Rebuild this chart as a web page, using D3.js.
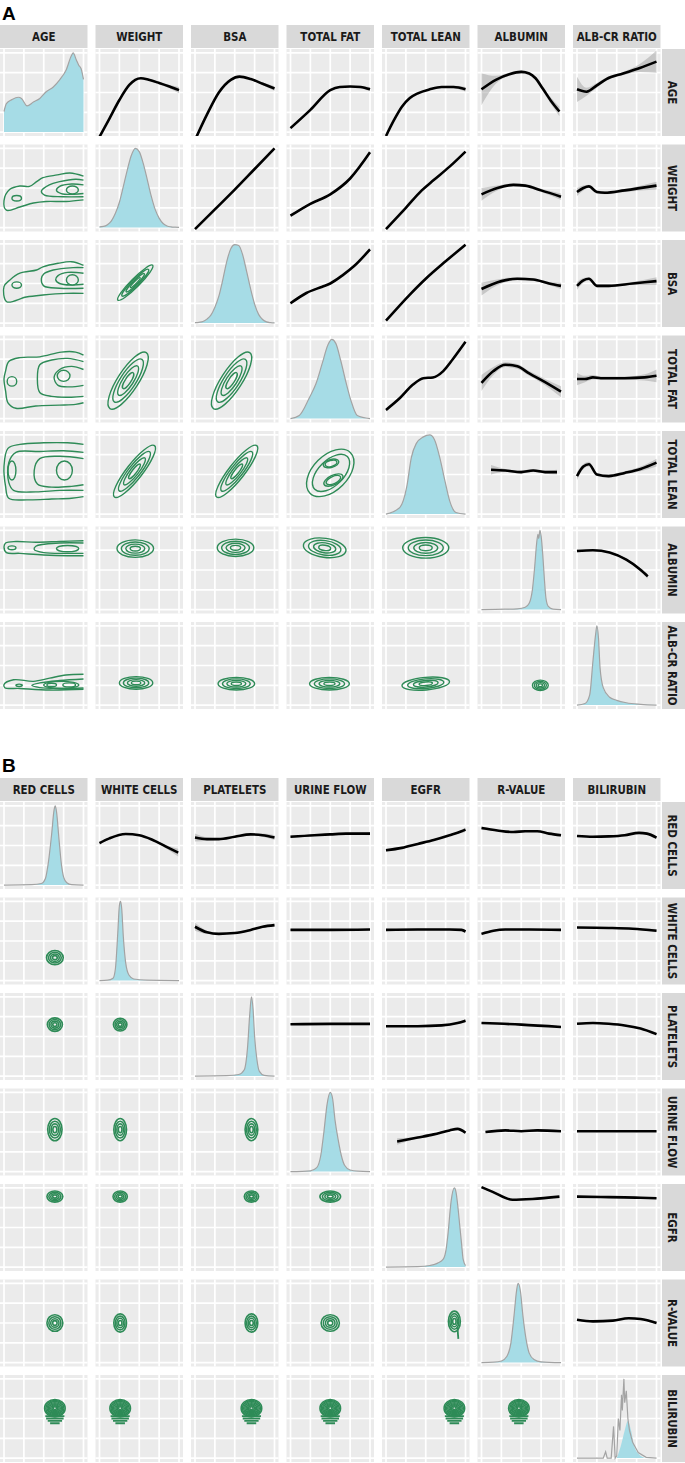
<!DOCTYPE html>
<html><head><meta charset="utf-8">
<script src="https://cdn.jsdelivr.net/npm/d3@7"></script>
<style>body{margin:0;background:#fff;} svg{display:block}</style>
</head><body>
<svg id="chart" width="685" height="1463"></svg>
<script>
// ---------------- DATA ----------------
const varsA = ["AGE","WEIGHT","BSA","TOTAL FAT","TOTAL LEAN","ALBUMIN","ALB-CR RATIO"];
const varsB = ["RED CELLS","WHITE CELLS","PLATELETS","URINE FLOW","EGFR","R-VALUE","BILIRUBIN"];
const gridBreaks = [0, .25, .5, .75, 1];

// diagonal densities: [x, relative density]
const densAge = [[0,.26],[.03,.36],[.1,.41],[.18,.44],[.22,.425],[.29,.33],[.37,.38],[.45,.425],[.53,.51],[.62,.57],[.7,.66],[.78,.78],[.85,.97],[.87,1],[.91,.91],[.94,.845],[.97,.8],[1,.665]];
const densWeight = [[0,.01],[.05,.015],[.1,.037],[.15,.086],[.2,.18],[.25,.32],[.3,.52],[.35,.73],[.4,.91],[.45,1],[.5,.96],[.55,.81],[.6,.61],[.65,.4],[.7,.23],[.75,.12],[.8,.052],[.85,.021],[.9,.01],[.95,.006],[1,.004]];
const densBsa = [[0,.005],[.05,.01],[.1,.02],[.15,.05],[.2,.1],[.25,.2],[.3,.34],[.35,.55],[.4,.78],[.45,.94],[.5,.99],[.55,.98],[.6,.86],[.65,.65],[.7,.43],[.75,.24],[.8,.11],[.85,.045],[.9,.015],[.95,.006],[1,.003]];
const densFat = [[0,0],[.11,.04],[.24,.27],[.32,.44],[.4,.7],[.47,.93],[.52,1],[.57,.95],[.63,.74],[.7,.45],[.76,.23],[.84,.04],[1,0]];
const densLean = [[0,0],[.175,.085],[.26,.34],[.32,.72],[.38,.89],[.47,.975],[.55,1],[.61,.94],[.675,.72],[.74,.425],[.8,.17],[.88,.02],[1,0]];
const densAlbumin = [[0,0],[.3,.005],[.45,.01],[.55,.03],[.6,.08],[.64,.25],[.67,.55],[.69,.8],[.71,.95],[.72,.9],[.735,1],[.75,.93],[.77,.7],[.79,.4],[.81,.15],[.84,.04],[.9,.005],[1,0]];
const densAlbcr = [[0,0],[.1,.02],[.16,.13],[.2,.55],[.235,.9],[.25,1],[.27,.85],[.29,.47],[.33,.22],[.41,.1],[.5,.06],[.62,.03],[.8,.01],[1,0]];

const densRed = [[0,0],[.35,.005],[.47,.02],[.52,.08],[.56,.3],[.6,.65],[.63,.95],[.645,1],[.66,.93],[.69,.6],[.72,.28],[.75,.1],[.79,.03],[.85,.005],[1,0]];
const densWhite = [[0,0],[.1,.005],[.17,.03],[.2,.15],[.23,.6],[.25,.95],[.265,1],[.28,.9],[.3,.55],[.33,.22],[.37,.07],[.43,.02],[.6,.005],[1,0]];
const densPlatelets = [[0,0],[.4,.005],[.55,.02],[.62,.08],[.66,.35],[.69,.8],[.71,1],[.73,.85],[.75,.5],[.78,.2],[.81,.06],[.87,.01],[1,0]];
const densUrine = [[0,0],[.25,.01],[.33,.05],[.38,.2],[.42,.5],[.46,.85],[.5,1],[.53,.92],[.56,.65],[.6,.4],[.64,.2],[.68,.08],[.75,.02],[.85,.005],[1,0]];
const densEgfr = [[0,0],[.4,.005],[.55,.02],[.65,.05],[.72,.1],[.76,.25],[.78,.42],[.82,.84],[.86,1],[.88,.95],[.9,.8],[.93,.5],[.95,.3],[.97,.1],[1,.02]];
const densRvalue = [[0,0],[.15,.005],[.25,.02],[.32,.08],[.37,.25],[.41,.6],[.44,.9],[.46,1],[.49,.9],[.52,.6],[.56,.3],[.6,.12],[.66,.04],[.75,.01],[1,0]];
const densBili = [[0,0],[.33,0],[.36,.08],[.38,0],[.43,0],[.46,.4],[.48,0],[.5,.03],[.52,.5],[.54,.35],[.56,.8],[.57,.6],[.59,1],[.6,.7],[.62,.85],[.64,.5],[.66,.35],[.7,.2],[.77,.07],[.87,.01],[1,0]];
const biliFill = [[.5,0],[.55,.15],[.6,.35],[.64,.47],[.68,.35],[.72,.15],[.78,.05],[.87,0]];

const densityA = [densAge, densWeight, densBsa, densFat, densLean, densAlbumin, densAlbcr];
const densityB = [densRed, densWhite, densPlatelets, densUrine, densEgfr, densRvalue, densBili];

// upper cells: [row, col, [[x, fit, se], ...]]
const linesA = [
 [0,1,[[0,-.06,.01],[.125,.17,.01],[.25,.405,.01],[.375,.595,.01],[.45,.66,.01],[.52,.68,.01],[.62,.66,.01],[.75,.62,.015],[.88,.575,.02],[1,.53,.04]]],
 [0,2,[[0,-.1,.01],[.15,.22,.01],[.3,.5,.01],[.45,.66,.01],[.56,.7,.01],[.7,.67,.01],[.85,.61,.015],[1,.55,.03]]],
 [0,3,[[0,.05,.02],[.25,.28,.01],[.5,.53,.01],[.62,.57,.01],[.75,.575,.01],[.88,.57,.015],[1,.54,.025]]],
 [0,4,[[0,-.05,.02],[.1,.15,.01],[.2,.32,.01],[.3,.43,.01],[.4,.49,.01],[.55,.54,.01],[.7,.57,.01],[.85,.57,.015],[1,.54,.03]]],
 [0,5,[[0,.54,.2],[.18,.66,.05],[.35,.73,.02],[.5,.76,.02],[.6,.74,.02],[.68,.68,.02],[.77,.55,.03],[.87,.4,.04],[.98,.26,.06]]],
 [0,6,[[0,.54,.16],[.12,.51,.05],[.25,.59,.03],[.37,.67,.02],[.58,.74,.02],[.79,.81,.05],[1,.89,.14]]],
 [1,2,[[0,-.02,.01],[.25,.23,.005],[.5,.48,.005],[.75,.74,.005],[1,1,.01]]],
 [1,3,[[0,.15,.02],[.25,.3,.01],[.5,.42,.01],[.75,.62,.01],[1,.95,.02]]],
 [1,4,[[0,-.02,.01],[.25,.25,.01],[.45,.47,.01],[.6,.6,.01],[.8,.77,.01],[1,.96,.01]]],
 [1,5,[[0,.42,.08],[.2,.5,.03],[.4,.54,.02],[.55,.53,.02],[.75,.47,.02],[1,.39,.04]]],
 [1,6,[[0,.45,.05],[.08,.5,.03],[.15,.52,.02],[.25,.45,.02],[.35,.44,.02],[.6,.47,.02],[1,.53,.05]]],
 [2,3,[[0,.25,.02],[.2,.38,.01],[.4,.46,.01],[.5,.5,.01],[.65,.6,.01],[.8,.72,.01],[1,.93,.02]]],
 [2,4,[[0,.03,.01],[.3,.36,.01],[.5,.56,.01],[.75,.78,.01],[1,.99,.01]]],
 [2,5,[[0,.43,.08],[.25,.53,.03],[.45,.56,.02],[.65,.55,.02],[.85,.5,.02],[1,.47,.04]]],
 [2,6,[[0,.47,.05],[.08,.54,.03],[.15,.56,.02],[.25,.47,.02],[.4,.47,.02],[.7,.5,.02],[1,.53,.05]]],
 [3,4,[[0,.11,.02],[.175,.26,.01],[.34,.43,.01],[.47,.51,.01],[.59,.52,.01],[.72,.6,.01],[.84,.75,.01],[1,.97,.02]]],
 [3,5,[[0,.45,.1],[.15,.6,.05],[.3,.68,.03],[.45,.66,.03],[.6,.57,.03],[.8,.46,.04],[1,.34,.07]]],
 [3,6,[[0,.5,.08],[.1,.5,.04],[.2,.52,.03],[.3,.51,.02],[.6,.51,.02],[.85,.52,.04],[1,.54,.08]]],
 [4,5,[[.12,.56,.06],[.3,.55,.02],[.5,.53,.02],[.65,.55,.02],[.8,.53,.02],[.95,.53,.03]]],
 [4,6,[[0,.48,.05],[.08,.6,.03],[.15,.63,.03],[.25,.5,.02],[.4,.48,.02],[.6,.52,.02],[.8,.57,.03],[1,.65,.05]]],
 [5,6,[[0,.74,.02],[.2,.75,.01],[.41,.72,.01],[.62,.63,.015],[.79,.51,.02],[.89,.42,.03]]]
];
const linesB = [
 [0,1,[[0,.53,.02],[.125,.59,.01],[.33,.645,.01],[.5,.63,.01],[.67,.57,.01],[.83,.49,.02],[.99,.41,.05]]],
 [0,2,[[0,.6,.05],[.15,.58,.02],[.3,.58,.01],[.5,.61,.01],[.7,.64,.01],[.85,.63,.02],[1,.6,.03]]],
 [0,3,[[0,.61,.02],[.3,.63,.01],[.5,.64,.01],[.7,.65,.01],[1,.65,.02]]],
 [0,4,[[0,.44,.02],[.2,.47,.01],[.4,.52,.01],[.6,.57,.01],[.8,.63,.01],[.95,.68,.02],[1,.7,.03]]],
 [0,5,[[0,.72,.02],[.2,.69,.01],[.4,.67,.01],[.55,.68,.01],[.7,.68,.01],[.85,.65,.01],[1,.63,.02]]],
 [0,6,[[0,.62,.01],[.2,.61,.01],[.4,.615,.01],[.6,.63,.01],[.78,.66,.01],[.88,.65,.01],[1,.6,.02]]],
 [1,2,[[0,.68,.05],[.15,.61,.02],[.3,.59,.01],[.5,.6,.01],[.7,.64,.01],[.85,.68,.01],[1,.7,.02]]],
 [1,3,[[0,.64,.01],[.5,.64,.01],[1,.645,.01]]],
 [1,4,[[0,.64,.01],[.4,.645,.01],[.8,.645,.01],[.95,.64,.01],[1,.62,.02]]],
 [1,5,[[0,.59,.02],[.15,.63,.01],[.3,.645,.01],[.6,.645,.01],[1,.64,.01]]],
 [1,6,[[0,.67,.01],[.4,.665,.01],[.7,.655,.01],[1,.63,.02]]],
 [2,3,[[0,.655,.01],[.5,.66,.01],[1,.66,.01]]],
 [2,4,[[0,.63,.01],[.4,.63,.01],[.7,.64,.01],[.9,.67,.01],[1,.7,.02]]],
 [2,5,[[0,.67,.01],[.5,.65,.01],[1,.62,.01]]],
 [2,6,[[0,.66,.01],[.2,.67,.01],[.4,.66,.01],[.6,.64,.01],[.8,.6,.01],[1,.53,.02]]],
 [3,4,[[.14,.38,.04],[.4,.43,.01],[.6,.47,.01],[.8,.52,.01],[.9,.54,.01],[1,.49,.02]]],
 [3,5,[[.05,.5,.01],[.3,.52,.01],[.5,.51,.01],[.7,.52,.01],[1,.51,.01]]],
 [3,6,[[0,.51,.01],[.5,.51,.01],[1,.51,.01]]],
 [4,5,[[0,1.01,.01],[.14,.95,.01],[.39,.85,.01],[.64,.86,.01],[.98,.89,.01]]],
 [4,6,[[0,.89,.01],[.3,.885,.01],[.6,.88,.01],[.8,.875,.01],[1,.87,.01]]],
 [5,6,[[0,.54,.01],[.2,.52,.01],[.45,.53,.01],[.65,.56,.01],[.8,.55,.01],[1,.5,.02]]]
];

// lower cells: density contours
const ringScales = [1, .76, .52, .28];
const biliScales = [1, .88, .76, .64, .52, .4, .28, .16];
// [row, col, cx, cy, rx, ry, angleDeg, rings]
const ellipsesA = [
 [1,0,.86,.475,.075,.05,0,1],[1,0,.16,.37,.06,.035,0,1],
 [2,0,.86,.545,.075,.065,0,1],[2,0,.16,.48,.06,.04,0,1],
 [3,0,.75,.54,.08,.07,0,1],[3,0,.1,.47,.06,.06,0,1],
 [4,0,.76,.55,.1,.12,0,1],[4,0,.1,.55,.05,.12,0,1],
 [5,0,.8,.77,.14,.04,0,1],[5,0,.1,.78,.05,.025,0,1],
 [6,0,.72,.255,.22,.045,0,1],[6,0,.82,.255,.08,.025,0,1],[6,0,.6,.255,.06,.02,0,1],[6,0,.19,.25,.04,.015,0,1],
 [2,1,.45,.51,.31,.055,-45,4],
 [3,1,.36,.48,.42,.13,-57,4],[3,2,.46,.48,.42,.13,-57,4],
 [4,1,.44,.54,.41,.1,-52,4],[4,2,.525,.54,.41,.1,-52,4],
 [4,3,.5,.52,.36,.22,-45,1],[4,3,.51,.52,.29,.16,-45,1],[4,3,.51,.64,.1,.05,-15,2],[4,3,.54,.43,.13,.06,-25,2],
 [5,1,.45,.77,.23,.11,0,4],[5,2,.51,.78,.23,.11,0,4],[5,3,.43,.78,.27,.12,8,4],[5,4,.5,.78,.29,.13,0,4],
 [6,1,.46,.28,.21,.08,0,4],[6,2,.52,.27,.23,.08,0,4],[6,3,.49,.27,.25,.08,0,4],[6,4,.5,.27,.3,.08,-5,4],[6,5,.74,.25,.1,.065,0,4]
];
// open contour paths in the AGE column: [row, points]
const ageContours = [
 [1,[[1,.65],[.83,.69],[.67,.665],[.49,.63],[.41,.58],[.32,.52],[.2,.525],[.07,.48],[0,.34],[.03,.22],[.2,.26],[.37,.31],[.53,.33],[.78,.33],[1,.35]]],
 [1,[[1,.6],[.9,.61],[.7,.58],[.57,.54],[.47,.46],[.51,.41],[.74,.39],[1,.39]]],
 [1,[[1,.54],[.85,.55],[.7,.52],[.66,.47],[.72,.43],[.88,.42],[1,.43]]],
 [2,[[1,.73],[.85,.775],[.68,.755],[.49,.71],[.41,.67],[.2,.63],[.075,.545],[0,.46],[.034,.27],[.28,.33],[.49,.355],[.78,.375],[1,.375]]],
 [2,[[1,.7],[.87,.7],[.62,.67],[.5,.62],[.47,.56],[.5,.47],[.7,.44],[1,.44]]],
 [2,[[1,.63],[.8,.64],[.68,.6],[.65,.55],[.7,.5],[.85,.48],[1,.49]]],
 [3,[[1,.8],[.9,.84],[.72,.84],[.45,.78],[.2,.77],[.06,.72],[.02,.6],[0,.5],[.02,.35],[.05,.2],[.15,.13],[.4,.16],[.7,.17],[.9,.18],[1,.2]]],
 [3,[[1,.72],[.8,.76],[.6,.74],[.45,.68],[.42,.5],[.45,.33],[.6,.28],[.85,.27],[1,.28]]],
 [3,[[1,.62],[.85,.66],[.7,.62],[.63,.52],[.68,.42],[.82,.4],[1,.42]]],
 [4,[[1,.88],[.8,.9],[.5,.9],[.2,.88],[.05,.83],[0,.6],[.02,.35],[.06,.2],[.3,.18],[.6,.19],[.85,.2],[1,.22]]],
 [4,[[1,.78],[.75,.8],[.45,.79],[.15,.78],[.06,.65],[.06,.4],[.12,.3],[.4,.28],[.7,.3],[1,.3]]],
 [4,[[1,.7],[.7,.73],[.45,.7],[.38,.55],[.42,.38],[.6,.34],[.85,.35],[1,.37]]],
 [5,[[1,.87],[.7,.86],[.4,.85],[.15,.86],[.02,.84],[0,.79],[.03,.72],[.2,.71],[.5,.69],[.8,.68],[1,.68]]],
 [5,[[1,.84],[.7,.84],[.4,.8],[.38,.76],[.5,.72],[.8,.71],[1,.71]]],
 [6,[[1,.39],[.78,.38],[.575,.34],[.37,.3],[.12,.32],[0,.26],[.01,.22],[.2,.21],[.575,.19],[1,.2]]],
 [6,[[1,.33],[.7,.31],[.45,.28],[.35,.25],[.45,.22],[.7,.21],[1,.215]]]
];
const ellipsesB = [
 [1,0,.64,.29,.105,.09,0,4],
 [2,0,.64,.65,.095,.085,0,4],[2,1,.26,.65,.085,.08,0,4],
 [3,0,.64,.53,.09,.14,0,4],[3,1,.26,.53,.08,.14,0,4],[3,2,.71,.53,.08,.14,0,4],
 [4,0,.64,.89,.1,.07,0,4],[4,1,.26,.89,.09,.07,0,4],[4,2,.71,.89,.09,.07,0,4],[4,3,.5,.89,.13,.07,0,4],
 [5,0,.64,.5,.1,.105,0,4],[5,1,.26,.5,.08,.115,0,4],[5,2,.71,.5,.08,.115,0,4],[5,3,.5,.5,.115,.105,0,4],[5,4,.86,.52,.075,.13,0,4]
];
const egfrTail = [[.9,.44],[.905,.36],[.91,.3]];
// bilirubin row blobs: [col, cx]
const biliBlobs = [[0,.64],[1,.26],[2,.71],[3,.5],[4,.86],[5,.47]];
const biliBlobShape = [.63, .13, .11];   // cy, rx, ry
const biliStripes = [[.53,.12],[.5,.11],[.47,.09],[.44,.06]]; // y, half width

// ---------------- DRAWING ----------------
const svg = d3.select("#chart");
const CW = 87.5, CH = 87, STEP = 95.5;
const xs = d3.scaleLinear().domain([0,1]).range([4, CW - 4]);
const ys = d3.scaleLinear().domain([0,1]).range([CH - 3.9, 3.9]);
const GREEN = "#2e8b57", BLUE = "#a6dce6";
const FONT = "'Liberation Sans Narrow','Arial Narrow','DejaVu Sans Condensed',sans-serif";
let clipN = 0;

function cellG(rowsY, r, c) {
  const g = svg.append("g").attr("transform", `translate(${c * STEP},${rowsY + r * STEP})`);
  const id = "clip" + (clipN++);
  g.append("clipPath").attr("id", id).append("rect").attr("width", CW).attr("height", CH);
  g.append("rect").attr("width", CW).attr("height", CH).attr("fill", "#ebebeb");
  const grid = g.append("g").attr("stroke", "#fff").attr("stroke-width", 1.7);
  gridBreaks.forEach(b => {
    grid.append("line").attr("x1", xs(b)).attr("x2", xs(b)).attr("y1", 0).attr("y2", CH);
    grid.append("line").attr("y1", ys(b)).attr("y2", ys(b)).attr("x1", 0).attr("x2", CW);
  });
  return g.append("g").attr("clip-path", `url(#${id})`);
}

function drawEllipses(g, cx, cy, rx, ry, ang, scales, sw) {
  scales.forEach(s => {
    g.append("ellipse")
      .attr("cx", xs(cx)).attr("cy", ys(cy))
      .attr("rx", xs(cx + rx * s) - xs(cx)).attr("ry", ys(cy) - ys(cy + ry * s))
      .attr("transform", `rotate(${ang},${xs(cx)},${ys(cy)})`)
      .attr("fill", "none").attr("stroke", GREEN).attr("stroke-width", sw || 1.4);
  });
}

function drawBlock(o) {
  const n = o.vars.length;
  svg.append("text").attr("x", 2).attr("y", o.letterY).text(o.letter)
    .attr("font-family", "'Liberation Sans',Arial,sans-serif").attr("font-weight", "bold")
    .attr("font-size", 19).attr("fill", "#000");
  o.vars.forEach((v, c) => {
    svg.append("rect").attr("x", c * STEP).attr("y", o.headerY).attr("width", CW).attr("height", 23).attr("fill", "#d9d9d9");
    svg.append("text").attr("transform", `translate(${c * STEP + CW / 2},${o.headerY + 12}) scale(0.88,1)`)
      .attr("text-anchor", "middle").attr("dominant-baseline", "central")
      .attr("font-family", FONT).attr("font-weight", "bold").attr("font-size", 13).attr("fill", "#1a1a1a").text(v);
    const ry = o.rowsY + c * STEP;
    svg.append("rect").attr("x", 662).attr("y", ry).attr("width", 23).attr("height", CH).attr("fill", "#d9d9d9");
    svg.append("text").attr("transform", `translate(672.5,${ry + CH / 2}) rotate(90) scale(0.88,1)`)
      .attr("text-anchor", "middle").attr("dominant-baseline", "central")
      .attr("font-family", FONT).attr("font-weight", "bold").attr("font-size", 13).attr("fill", "#1a1a1a").text(v);
  });
  const cells = {};
  for (let r = 0; r < n; r++) for (let c = 0; c < n; c++) cells[r + "_" + c] = cellG(o.rowsY, r, c);

  o.dens.forEach((d, i) => {
    const g = cells[i + "_" + i];
    if (o.fillExtra && i === o.fillExtra.index) {
      g.append("path").datum(o.fillExtra.data)
        .attr("d", d3.area().x(p => xs(p[0])).y0(ys(0)).y1(p => ys(p[1])).curve(d3.curveMonotoneX))
        .attr("fill", BLUE);
      g.append("path").datum(d).attr("d", d3.line().x(p => xs(p[0])).y(p => ys(p[1])))
        .attr("fill", "none").attr("stroke", "#a3a3a3").attr("stroke-width", 1.2);
      return;
    }
    g.append("path").datum(d)
      .attr("d", d3.area().x(p => xs(p[0])).y0(ys(0)).y1(p => ys(p[1])).curve(d3.curveMonotoneX))
      .attr("fill", BLUE);
    g.append("path").datum(d)
      .attr("d", d3.line().x(p => xs(p[0])).y(p => ys(p[1])).curve(d3.curveMonotoneX))
      .attr("fill", "none").attr("stroke", "#a3a3a3").attr("stroke-width", 1.2);
  });

  o.lines.forEach(([r, c, pts]) => {
    const g = cells[r + "_" + c];
    g.append("path").datum(pts)
      .attr("d", d3.area().x(p => xs(p[0])).y0(p => ys(p[1] - p[2])).y1(p => ys(p[1] + p[2])).curve(d3.curveMonotoneX))
      .attr("fill", "#9a9a9a").attr("opacity", 0.45);
    g.append("path").datum(pts)
      .attr("d", d3.line().x(p => xs(p[0])).y(p => ys(p[1])).curve(d3.curveMonotoneX))
      .attr("fill", "none").attr("stroke", "#000").attr("stroke-width", 2.6).attr("stroke-linecap", "butt");
  });

  (o.paths || []).forEach(([r, pts]) => {
    cells[r + "_0"].append("path").datum(pts)
      .attr("d", d3.line().x(p => xs(p[0])).y(p => ys(p[1])).curve(d3.curveCatmullRom.alpha(0.5)))
      .attr("fill", "none").attr("stroke", GREEN).attr("stroke-width", 1.4);
  });
  o.ellipses.forEach(([r, c, cx, cy, rx, ry, ang, k]) => {
    drawEllipses(cells[r + "_" + c], cx, cy, rx, ry, ang, ringScales.slice(0, k), o.ellipseWidth);
  });
  if (o.extra) o.extra(cells);
}

drawBlock({vars: varsA, letter: "A", letterY: 19.5, headerY: 25, rowsY: 49,
  dens: densityA, lines: linesA, ellipses: ellipsesA, paths: ageContours});

drawBlock({vars: varsB, letter: "B", letterY: 771.5, headerY: 778, rowsY: 802,
  dens: densityB, lines: linesB, ellipses: ellipsesB, ellipseWidth: 1.6, fillExtra: {index: 6, data: biliFill},
  extra: cells => {
    cells["5_4"].append("path").datum(egfrTail)
      .attr("d", d3.line().x(p => xs(p[0])).y(p => ys(p[1])))
      .attr("fill", "none").attr("stroke", GREEN).attr("stroke-width", 1.8);
    biliBlobs.forEach(([c, cx]) => {
      const g = cells["6_" + c];
      drawEllipses(g, cx, biliBlobShape[0], biliBlobShape[1], biliBlobShape[2], 0, biliScales, 1.5);
      biliStripes.forEach(([yy, hw]) => {
        g.append("line").attr("x1", xs(cx - hw)).attr("x2", xs(cx + hw)).attr("y1", ys(yy)).attr("y2", ys(yy))
          .attr("stroke", GREEN).attr("stroke-width", 1.8);
      });
    });
  }});
</script>
</body></html>
